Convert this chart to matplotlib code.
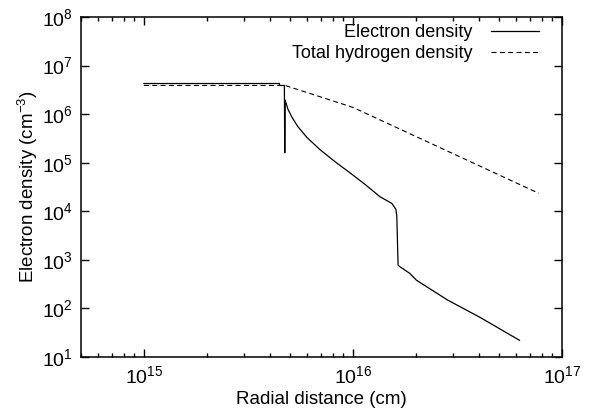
import numpy as np
import matplotlib
matplotlib.use('Agg')
import matplotlib.pyplot as plt
from matplotlib.ticker import LogLocator, NullLocator, NullFormatter, LogFormatterSciNotation

plt.rcParams['font.family'] = ['Liberation Sans', 'DejaVu Sans']
plt.rcParams['mathtext.fontset'] = 'custom'
plt.rcParams['mathtext.rm'] = 'Liberation Sans'
plt.rcParams['mathtext.it'] = 'Liberation Sans'
plt.rcParams['mathtext.default'] = 'regular'

# radial distance in units of 1e15 cm
r_elec = [1.0, 4.45, 4.45, 4.70, 4.72, 4.74, 4.89, 5.12, 5.46, 6.03, 6.96, 8.21,
          9.68, 11.41, 13.46, 15.36, 16.05, 16.22, 16.45, 16.76, 18.72, 20.14,
          28.42, 40.39, 62.68]
n_elec = [4.28e6, 4.28e6, 3.9e6, 3.9e6, 1.6e5, 1.95e6, 1.26e6, 8.5e5, 5.5e5, 3.3e5,
          1.86e5, 1.05e5, 6.2e4, 3.6e4, 2.0e4, 1.45e4, 1.1e4, 7.9e3, 776, 724,
          525, 380, 148, 66, 22]

r_hyd = [1.0, 4.74, 10.0, 77.4]
n_hyd = [3.9e6, 3.9e6, 1.38e6, 2.35e4]

x_ticks = [1e15, 1e16, 1e17]
y_ticks = [1e1, 1e2, 1e3, 1e4, 1e5, 1e6, 1e7, 1e8]

fig = plt.figure(figsize=(5.89, 4.16), dpi=100)
ax = fig.add_axes([0.1375, 0.142, 0.8165, 0.817])

ax.plot(np.array(r_elec) * 1e15, n_elec, color='black', lw=0.9, label='Electron density')
ax.plot(np.array(r_hyd) * 1e15, n_hyd, color='black', lw=0.8, linestyle=(0, (4.5, 3)),
        label='Total hydrogen density')

ax.set_xscale('log')
ax.set_yscale('log')
ax.set_xlim(5e14, 1e17)
ax.set_ylim(1e1, 1e8)

ax.set_xticks(x_ticks)
ax.set_yticks(y_ticks)
ax.xaxis.set_minor_locator(LogLocator(base=10, subs=np.arange(2, 10), numticks=20))
ax.xaxis.set_minor_formatter(NullFormatter())
ax.yaxis.set_minor_locator(NullLocator())
ax.xaxis.set_major_formatter(LogFormatterSciNotation())
ax.yaxis.set_major_formatter(LogFormatterSciNotation())

ax.tick_params(which='both', direction='in', top=True, right=True, labelsize=14, width=1)
ax.tick_params(which='major', length=5.5, pad=6)
ax.tick_params(which='minor', length=3)
for s in ax.spines.values():
    s.set_linewidth(1.1)

ax.set_xlabel('Radial distance (cm)', fontsize=13.5, labelpad=3)
ax.set_ylabel('Electron density (cm$^{-3}$)', fontsize=13.5, labelpad=1)

ax.legend(loc='upper right', bbox_to_anchor=(0.968, 1.0), frameon=False, fontsize=13,
          markerfirst=False, handlelength=2.65, handletextpad=1.05, labelspacing=0.2,
          borderaxespad=0.0)

fig.savefig('out.png', dpi=100)
